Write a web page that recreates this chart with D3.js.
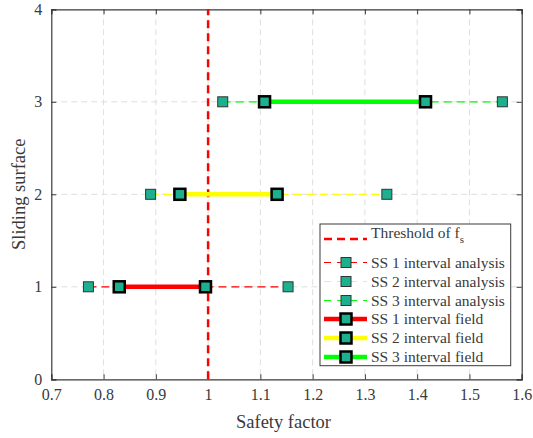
<!DOCTYPE html>
<html><head><meta charset="utf-8">
<script src="https://cdn.jsdelivr.net/npm/d3@7"></script>
<style>body{margin:0;background:#fff}svg{display:block}</style>
</head><body><svg id="c" width="533" height="438"></svg>
<script>
const surfaces = [1, 2, 3];
const seriesNames = ["SS 1", "SS 2", "SS 3"];
const lineColors = ["#ff0000", "#ffff00", "#00ff00"];
const analysisLow = [0.771, 0.890, 1.028];
const analysisHigh = [1.153, 1.342, 1.563];
const fieldLow = [0.830, 0.946, 1.108];
const fieldHigh = [0.995, 1.132, 1.416];
const threshold = 1.0;
const xTicks = [0.7, 0.8, 0.9, 1.0, 1.1, 1.2, 1.3, 1.4, 1.5, 1.6];
const yTicks = [0, 1, 2, 3, 4];

const svg = d3.select("#c");
const L = 51.3, R = 521.7, T = 9.3, B = 379.3;
const x = d3.scaleLinear().domain([0.7, 1.6]).range([L, R]);
const y = d3.scaleLinear().domain([0, 4]).range([B, T]);
const txt = "#3a3a3a";
const font = "'Liberation Serif', 'Times New Roman', serif";
const markerFill = "#1db08f";

// grid
const g = svg.append("g");
g.selectAll(".gx").data(xTicks.slice(1, -1)).join("line")
  .attr("x1", d => x(d)).attr("x2", d => x(d)).attr("y1", T).attr("y2", B)
  .attr("stroke", "#dedede").attr("stroke-width", 1).attr("stroke-dasharray", "6,4");
g.selectAll(".gy").data(yTicks.slice(1, -1)).join("line")
  .attr("y1", d => y(d)).attr("y2", d => y(d)).attr("x1", L).attr("x2", R)
  .attr("stroke", "#dedede").attr("stroke-width", 1).attr("stroke-dasharray", "6,4");

// axes
const ax = svg.append("g").attr("transform", `translate(0,${B})`)
  .call(d3.axisBottom(x).tickValues(xTicks).tickSize(-5).tickPadding(9).tickFormat(d3.format("~g")));
const axTop = svg.append("g").attr("transform", `translate(0,${T})`)
  .call(d3.axisTop(x).tickValues(xTicks).tickSize(-5).tickFormat(""));
const ay = svg.append("g").attr("transform", `translate(${L},0)`)
  .call(d3.axisLeft(y).tickValues(yTicks).tickSize(-5).tickPadding(9).tickFormat(d3.format("d")));
const ayR = svg.append("g").attr("transform", `translate(${R},0)`)
  .call(d3.axisRight(y).tickValues(yTicks).tickSize(-5).tickFormat(""));
[ax, axTop, ay, ayR].forEach(a => {
  a.attr("font-family", font);
  a.select(".domain").attr("stroke", txt).attr("stroke-width", 1.2);
  a.selectAll(".tick line").attr("stroke", txt).attr("stroke-width", 1);
  a.selectAll("text").attr("fill", txt).style("font-family", font).attr("font-size", 16);
});

// threshold
svg.append("line").attr("x1", x(threshold)).attr("x2", x(threshold))
  .attr("y1", y(0)).attr("y2", y(4))
  .attr("stroke", "#ff0000").attr("stroke-width", 2.5).attr("stroke-dasharray", "8,5");

const data = surfaces.map((s, i) => ({s, i}));
// analysis lines
svg.selectAll(".al").data(data).join("line")
  .attr("x1", d => x(analysisLow[d.i])).attr("x2", d => x(analysisHigh[d.i]))
  .attr("y1", d => y(d.s)).attr("y2", d => y(d.s))
  .attr("stroke", d => lineColors[d.i]).attr("stroke-width", 1.2).attr("stroke-dasharray", "8,5");
// field lines
svg.selectAll(".fl").data(data).join("line")
  .attr("x1", d => x(fieldLow[d.i])).attr("x2", d => x(fieldHigh[d.i]))
  .attr("y1", d => y(d.s)).attr("y2", d => y(d.s))
  .attr("stroke", d => lineColors[d.i]).attr("stroke-width", 4.5);

function amark(sel, cx, cy) {
  sel.append("rect").attr("x", cx - 5).attr("y", cy - 5).attr("width", 10).attr("height", 10)
    .attr("fill", markerFill).attr("stroke", "#333").attr("stroke-width", 1);
}
function fmark(sel, cx, cy) {
  sel.append("rect").attr("x", cx - 5.5).attr("y", cy - 5.5).attr("width", 11).attr("height", 11)
    .attr("fill", markerFill).attr("stroke", "#000").attr("stroke-width", 2.5);
}
data.forEach(d => {
  amark(svg, x(analysisLow[d.i]), y(d.s));
  amark(svg, x(analysisHigh[d.i]), y(d.s));
  fmark(svg, x(fieldLow[d.i]), y(d.s));
  fmark(svg, x(fieldHigh[d.i]), y(d.s));
});

// axis labels
svg.append("text").attr("x", (L + R) / 2 - 3).attr("y", 428).attr("text-anchor", "middle")
  .style("font-family", font).attr("font-size", 18.5).attr("fill", txt).text("Safety factor");
svg.append("text").attr("transform", `translate(25,${(T + B) / 2}) rotate(-90)`)
  .attr("text-anchor", "middle").style("font-family", font).attr("font-size", 18.5)
  .attr("fill", txt).text("Sliding surface");

// legend
const lg = svg.append("g");
lg.append("rect").attr("x", 320).attr("y", 224).attr("width", 190.7).attr("height", 141.7)
  .attr("fill", "#fff").attr("stroke", txt).attr("stroke-width", 1);
const lx1 = 324, lx2 = 367, lmx = 346, ltx = 371;
const rowY = [239, 262.5, 281.5, 300.5, 319, 338, 357];
lg.append("line").attr("x1", lx1).attr("x2", lx2).attr("y1", rowY[0]).attr("y2", rowY[0])
  .attr("stroke", "#ff0000").attr("stroke-width", 2.5).attr("stroke-dasharray", "8,5");
const thr = lg.append("text").attr("x", ltx).attr("y", rowY[0] - 1).style("font-family", font)
  .attr("font-size", 15.5).attr("fill", txt);
thr.append("tspan").text("Threshold of f");
thr.append("tspan").attr("font-size", 11).attr("dy", 5).text("s");
data.forEach(d => {
  const yy = rowY[1 + d.i];
  lg.append("line").attr("x1", lx1).attr("x2", lx2).attr("y1", yy).attr("y2", yy)
    .attr("stroke", lineColors[d.i]).attr("stroke-width", 1.2).attr("stroke-dasharray", "7,6");
  amark(lg, lmx, yy);
  lg.append("text").attr("x", ltx).attr("y", yy + 5).style("font-family", font)
    .attr("font-size", 15.5).attr("fill", txt).text(seriesNames[d.i] + " interval analysis");
});
data.forEach(d => {
  const yy = rowY[4 + d.i];
  lg.append("line").attr("x1", lx1).attr("x2", lx2).attr("y1", yy).attr("y2", yy)
    .attr("stroke", lineColors[d.i]).attr("stroke-width", 4.5);
  fmark(lg, lmx, yy);
  lg.append("text").attr("x", ltx).attr("y", yy + 5).style("font-family", font)
    .attr("font-size", 15.5).attr("fill", txt).text(seriesNames[d.i] + " interval field");
});
</script></body></html>
